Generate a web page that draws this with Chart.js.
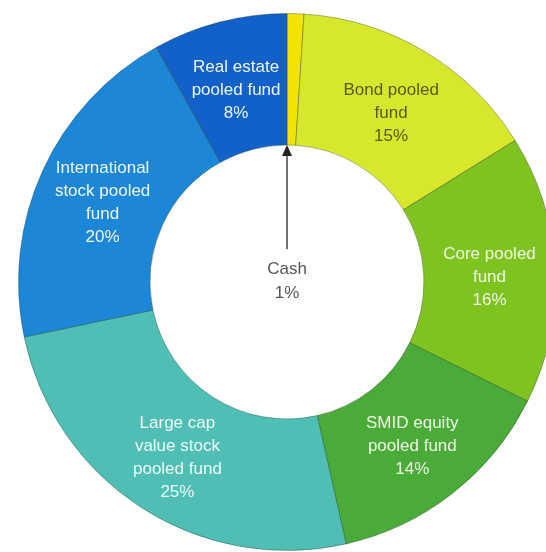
<!DOCTYPE html>
<html>
<head>
<meta charset="utf-8">
<script src="https://cdn.jsdelivr.net/npm/chart.js@4/dist/chart.umd.min.js"></script>
<style>
  html, body { margin: 0; padding: 0; background: #fff; overflow: hidden; }
  #wrap { position: absolute; left: 17px; top: 13px; width: 540px; height: 538px; }
</style>
</head>
<body>
<div id="wrap"><canvas id="chart"></canvas></div>
<script>
// fund names, split into the lines shown on the ring
const categories = [
  ['Cash'],
  ['Bond pooled', 'fund'],
  ['Core pooled', 'fund'],
  ['SMID equity', 'pooled fund'],
  ['Large cap', 'value stock', 'pooled fund'],
  ['International', 'stock pooled', 'fund'],
  ['Real estate', 'pooled fund']
];
const shares = [1, 15, 16, 14, 25, 20, 8];
const colors = ['#f2e400', '#d7e82c', '#7fc320', '#4aab38', '#4fbfb6', '#1c87d7', '#1261c9'];
const textColors = ['#555555', '#5a5a1c', '#eef6e4', '#eef6e4', '#eef8f6', '#eef4fc', '#eef4fc'];

// writes each fund's name and share in its segment; cash goes in the hole with an arrow
const ringLabels = {
  id: 'ringLabels',
  afterDatasetsDraw(chart) {
    const ctx = chart.ctx;
    const arcs = chart.getDatasetMeta(0).data;
    ctx.save();
    ctx.font = '17px "Liberation Sans", Arial, sans-serif';
    ctx.textAlign = 'center';
    ctx.textBaseline = 'middle';
    const lh = 23;
    arcs.forEach((arc, i) => {
      const lines = categories[i].concat([shares[i] + '%']);
      ctx.fillStyle = textColors[i];
      if (i === 0) {
        const cx = arc.x, cy = arc.y;
        // arrow from the label up to the cash slice
        const a = arc.startAngle;
        const tipX = cx + Math.cos(a) * arc.innerRadius;
        const tipY = cy + Math.sin(a) * arc.innerRadius;
        const tailX = cx + Math.cos(a) * arc.innerRadius * 0.24;
        const tailY = cy + Math.sin(a) * arc.innerRadius * 0.24;
        ctx.strokeStyle = '#444';
        ctx.lineWidth = 1.5;
        ctx.beginPath();
        ctx.moveTo(tailX, tailY);
        ctx.lineTo(tipX, tipY + 8);
        ctx.stroke();
        ctx.fillStyle = '#222';
        ctx.beginPath();
        ctx.moveTo(tipX, tipY);
        ctx.lineTo(tipX - 5, tipY + 11);
        ctx.lineTo(tipX + 5, tipY + 11);
        ctx.closePath();
        ctx.fill();
        ctx.fillStyle = textColors[i];
        ctx.fillText(lines[0], cx, cy - 13);
        ctx.fillText(lines[1], cx, cy + 11);
        return;
      }
      const p = arc.tooltipPosition();
      const y0 = p.y + 5 - (lines.length - 1) * lh / 2;
      lines.forEach((t, k) => ctx.fillText(t, p.x, y0 + k * lh));
    });
    ctx.restore();
  }
};

new Chart(document.getElementById('chart'), {
  type: 'doughnut',
  data: {
    labels: categories,
    datasets: [{
      data: shares,
      backgroundColor: colors,
      borderColor: 'rgba(30, 50, 30, 0.35)',
      borderWidth: 1
    }]
  },
  options: {
    responsive: true,
    maintainAspectRatio: false,
    animation: false,
    cutout: '51%',
    plugins: {
      legend: { display: false },
      tooltip: { enabled: false }
    }
  },
  plugins: [ringLabels]
});
</script>
</body>
</html>
